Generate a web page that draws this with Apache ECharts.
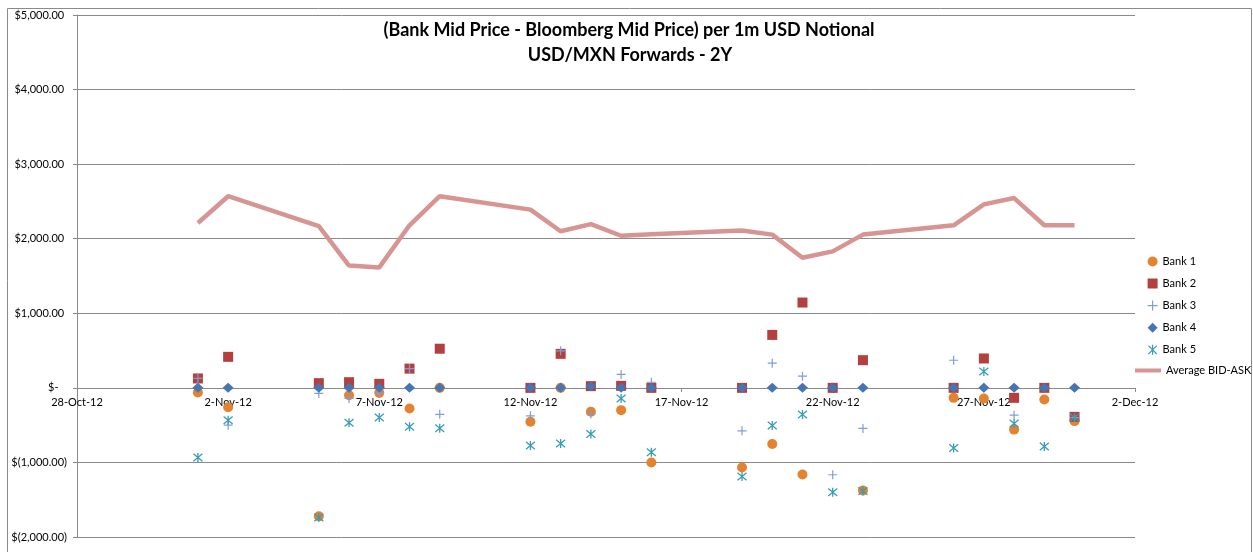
<!DOCTYPE html>
<html>
<head>
<meta charset="utf-8">
<script src="https://cdn.jsdelivr.net/npm/echarts@6/dist/echarts.min.js"></script>
<style>
  html, body { margin: 0; padding: 0; background: #fff; }
  #chart { width: 1253px; height: 552px; }
</style>
</head>
<body>
<div id="chart"></div>
<script>
// trade dates (business days, Nov 2012)
const dates = ['2012-11-01', '2012-11-02', '2012-11-05', '2012-11-06', '2012-11-07', '2012-11-08', '2012-11-09',
  '2012-11-12', '2012-11-13', '2012-11-14', '2012-11-15', '2012-11-16', '2012-11-19', '2012-11-20',
  '2012-11-21', '2012-11-22', '2012-11-23', '2012-11-26', '2012-11-27', '2012-11-28', '2012-11-29', '2012-11-30'];

const bank1 = [-62, -259, -1723, -98, -67, -276, 0, -455, 0, -321, -299, -1000, -1067, -754, -1161, 0, -1375, -134, -142, -560, -155, -446];
const bank2 = [126, 416, 63, 76, 54, 258, 525, 0, 456, 23, 27, 0, 0, 710, 1144, 0, 371, 0, 394, -134, 0, -389];
const bank3 = [126, -500, -75, -142, -75, 258, -355, -375, 496, -352, 180, 75, -576, 331, 157, -1165, -544, 370, 0, -366, 0, -400];
const bank4 = [0, 0, 0, 0, 0, 0, 0, 0, 0, 20, 0, 0, 0, 0, 0, 0, 0, 0, 0, 0, 0, 0];
const bank5 = [-933, -433, -1737, -469, -397, -523, -540, -772, -745, -620, -142, -862, -1188, -504, -357, -1400, -1384, -805, 218, -477, -786, -397];
const avgBidAsk = [2210, 2570, 2170, 1640, 1615, 2180, 2570, 2390, 2100, 2195, 2040, 2060, 2110, 2055, 1745, 1830, 2055, 2180, 2460, 2545, 2180, 2180];

const axisStart = '2012-10-28';
const axisDays = 35;
const yTicks = { min: -2000, max: 5000, step: 1000 };
const titleLines = ['(Bank Mid Price - Bloomberg Mid Price) per 1m USD Notional', 'USD/MXN Forwards - 2Y'];

const DAY = 86400000;
const MONTHS = ['Jan', 'Feb', 'Mar', 'Apr', 'May', 'Jun', 'Jul', 'Aug', 'Sep', 'Oct', 'Nov', 'Dec'];
const base = Date.parse(axisStart + 'T00:00:00Z');
const dayOf = s => Math.round((Date.parse(s + 'T00:00:00Z') - base) / DAY);
const pairs = vals => dates.map((d, i) => [dayOf(d), vals[i]]);

function dateLabel(v) {
  const d = new Date(base + v * DAY);
  return d.getUTCDate() + '-' + MONTHS[d.getUTCMonth()] + '-' + String(d.getUTCFullYear()).slice(2);
}
function money(v) {
  if (v === 0) return '$-   ';
  const s = Math.abs(v).toLocaleString('en-US', { minimumFractionDigits: 2, maximumFractionDigits: 2 });
  return v < 0 ? '$(' + s + ')' : '$' + s + ' ';
}

const FONT = 'Lato, "Liberation Sans", sans-serif';
const GRID_GREY = '#8a8a8a';
const LINE_PINK = '#D69593';
const PLUS = 'path://M5,0L5,10M0,5L10,5';
const STAR = 'path://M0,0L10,10M10,0L0,10M5,-1L5,11';
const legendText = { fontFamily: FONT, fontSize: 11, color: '#000', lineHeight: 10 };

const H = 552, GRID_TOP = 15, GRID_BOTTOM = 15;
// x axis sits on the y = 0 line (onZero is not honoured here, so shift it by hand)
const zeroOffset = -(0 - yTicks.min) / (yTicks.max - yTicks.min) * (H - GRID_TOP - GRID_BOTTOM);

const chart = echarts.init(document.getElementById('chart'));
chart.setOption({
  animation: false,
  backgroundColor: '#fff',
  textStyle: { fontFamily: FONT },
  graphic: [
    {
      type: 'rect',
      shape: { x: 7.5, y: 8.5, width: 1244, height: 560 },
      style: { fill: 'none', stroke: GRID_GREY, lineWidth: 1 },
      silent: true,
      z: -1
    },
    {
      type: 'text', x: 629, y: 30, silent: true,
      style: { text: titleLines[0], fill: '#000', font: 'bold 18px ' + FONT, align: 'center', verticalAlign: 'middle' }
    },
    {
      type: 'text', x: 630, y: 55, silent: true,
      style: { text: titleLines[1], fill: '#000', font: 'bold 18px ' + FONT, align: 'center', verticalAlign: 'middle' }
    }
  ],
  grid: { left: 77, right: 118, top: GRID_TOP, bottom: GRID_BOTTOM, outerBoundsMode: 'none', containLabel: false },
  legend: [
    {
      orient: 'vertical',
      left: 1142,
      top: 251,
      itemWidth: 10,
      itemHeight: 10,
      itemGap: 11,
      textStyle: legendText,
      data: [
        { name: 'Bank 1' },
        { name: 'Bank 2' },
        { name: 'Bank 3', itemStyle: { borderWidth: 1.2 } },
        { name: 'Bank 4' },
        { name: 'Bank 5', itemStyle: { borderWidth: 1.2 } }
      ]
    },
    {
      orient: 'vertical',
      left: 1130,
      top: 360,
      itemWidth: 26,
      itemHeight: 4,
      textStyle: legendText,
      data: [{ name: 'Average BID-ASK', icon: 'rect', itemStyle: { color: LINE_PINK } }]
    }
  ],
  xAxis: {
    type: 'value',
    min: 0,
    max: axisDays,
    interval: 5,
    position: 'bottom',
    offset: zeroOffset,
    z: 0,
    axisLine: { show: true, onZero: false, lineStyle: { color: GRID_GREY, width: 1 } },
    axisTick: { show: true, length: 4, lineStyle: { color: GRID_GREY } },
    splitLine: { show: false },
    axisLabel: { formatter: dateLabel, fontSize: 11, color: '#000', margin: 9, fontFamily: FONT }
  },
  yAxis: {
    type: 'value',
    min: yTicks.min,
    max: yTicks.max,
    interval: yTicks.step,
    axisLine: { show: true, onZero: false, lineStyle: { color: GRID_GREY, width: 1 } },
    axisTick: { show: true, length: 4, lineStyle: { color: GRID_GREY } },
    splitLine: { show: true, lineStyle: { color: GRID_GREY, width: 1 } },
    axisLabel: { formatter: money, fontSize: 11, color: '#000', margin: 10, fontFamily: FONT }
  },
  series: [
    {
      name: 'Bank 1', type: 'scatter', symbol: 'circle', symbolSize: 10, z: 5,
      itemStyle: { color: '#E3832F', opacity: 1 }, data: pairs(bank1)
    },
    {
      name: 'Bank 2', type: 'scatter', symbol: 'rect', symbolSize: 10, z: 5,
      itemStyle: { color: '#B3403E', opacity: 1 }, data: pairs(bank2)
    },
    {
      name: 'Bank 3', type: 'scatter', symbol: PLUS, symbolSize: 9, z: 5,
      itemStyle: { color: 'rgba(0,0,0,0)', borderColor: '#7F9ED6', borderWidth: 1.2, opacity: 1 }, data: pairs(bank3)
    },
    {
      name: 'Bank 4', type: 'scatter', symbol: 'diamond', symbolSize: [11, 10], z: 5,
      itemStyle: { color: '#4575B4', opacity: 1 }, data: pairs(bank4)
    },
    {
      name: 'Bank 5', type: 'scatter', symbol: STAR, symbolSize: 9, z: 5,
      itemStyle: { color: 'rgba(0,0,0,0)', borderColor: '#3A9DB6', borderWidth: 1.3, opacity: 1 }, data: pairs(bank5)
    },
    {
      name: 'Average BID-ASK', type: 'line', symbol: 'none', z: 5,
      lineStyle: { color: LINE_PINK, width: 4.5 }, itemStyle: { color: LINE_PINK },
      data: pairs(avgBidAsk)
    }
  ]
});
</script>
</body>
</html>
